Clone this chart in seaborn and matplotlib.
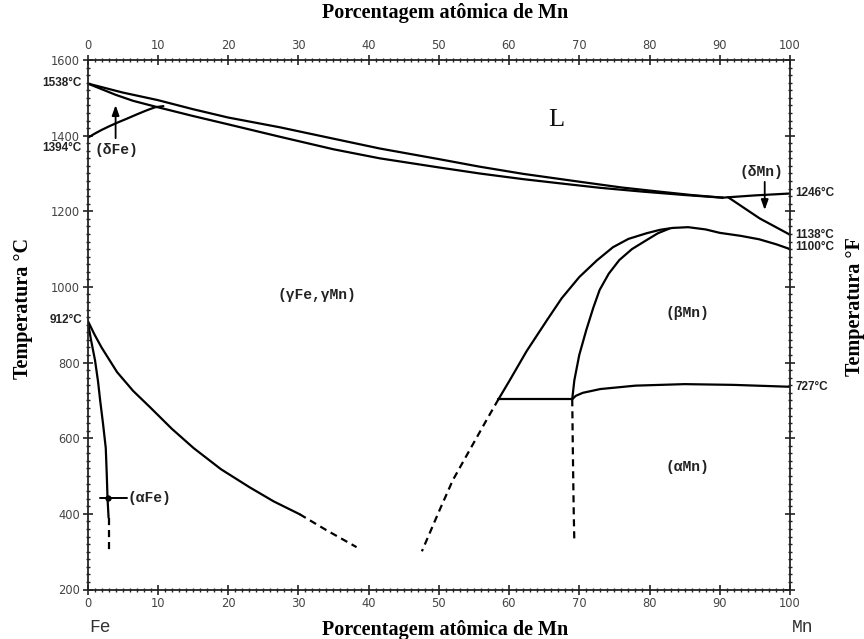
import numpy as np
import pandas as pd
import matplotlib
matplotlib.use("Agg")
import matplotlib.pyplot as plt
from matplotlib.ticker import MultipleLocator
import seaborn as sns

# ---- phase boundaries, (at.% Mn, temperature in degC) ----
liquidus_x = [0, 5, 10, 15, 20, 27.4, 35, 41.6, 50, 55.8, 62, 70.1, 76, 81.4, 86, 90.4]
liquidus_t = [1538, 1514, 1494, 1470, 1448, 1422, 1392, 1366, 1338, 1318, 1299, 1278, 1263, 1252, 1243, 1236]

solidus_x = [0, 2, 4, 6.5, 9.6, 15, 20, 27.4, 35, 41.6, 50, 55.8, 62, 67.2, 73, 79, 85, 90.4]
solidus_t = [1538, 1523, 1508, 1492, 1477, 1452, 1430, 1397, 1364, 1340, 1316, 1300, 1285, 1274, 1262, 1252, 1243, 1236]

delta_fe_x = [0, 1, 2, 3, 4.2, 5.5, 7, 8.3, 9.6, 10.8]
delta_fe_t = [1394, 1405, 1415, 1424, 1434, 1444, 1456, 1466, 1475, 1478]

liq_mn_x = [90.4, 95, 100]
liq_mn_t = [1236, 1242, 1247]

delta_mn_x = [91.2, 95.7, 100]
delta_mn_t = [1237, 1181, 1138]

beta_outer_x = [58.5, 60.1, 62.5, 65.4, 67.5, 70, 72.5, 74.8, 77, 79.6, 81.5, 83.3,
                85.5, 88, 90, 93, 95.6, 98, 100]
beta_outer_t = [703, 753, 830, 912, 970, 1026, 1070, 1105, 1127, 1142, 1151, 1156,
                1158, 1152, 1143, 1135, 1126, 1113, 1100]

beta_inner_x = [69, 69.3, 70, 71, 72, 72.9, 74.2, 75.7, 77.5, 79.6, 81.2, 82.8]
beta_inner_t = [703, 753, 820, 886, 945, 992, 1035, 1071, 1100, 1124, 1142, 1154]

eutectoid_x = [58.5, 69]
eutectoid_t = [703, 703]

alpha_mn_x = [69, 69.5, 70.5, 73, 78, 85, 92, 100]
alpha_mn_t = [703, 712, 720, 730, 739, 743, 741, 736]

outer_dash_x = [58.5, 56.8, 54.5, 52, 50, 47.6]
outer_dash_t = [703, 648, 572, 489, 405, 301]

inner_dash_x = [69, 69.1, 69.2, 69.3]
inner_dash_t = [703, 550, 420, 325]

gamma_alpha_x = [0, 1, 2, 4.2, 6.5, 8.9, 12, 15.1, 19, 23.1, 26.5, 30.2]
gamma_alpha_t = [912, 874, 840, 775, 725, 682, 625, 574, 518, 470, 433, 399]

gamma_alpha_dash_x = [30.2, 34, 38.3]
gamma_alpha_dash_t = [399, 357, 312]

alpha_fe_x = [0, 0.5, 1.07, 1.5, 1.8, 2.2, 2.6, 2.75, 2.85, 3.0]
alpha_fe_t = [912, 860, 806, 750, 700, 640, 574, 500, 441, 390]

alpha_fe_dash_x = [3.0, 3.0]
alpha_fe_dash_t = [390, 298]

# ---- axis ticks and labels ----
x_ticks = [0, 10, 20, 30, 40, 50, 60, 70, 80, 90, 100]
y_ticks = [200, 400, 600, 800, 1000, 1200, 1400, 1600]
left_marks = [("1538°C", 1538), ("1394°C", 1367), ("912°C", 912)]
right_marks = [("1246°C", 1248), ("1138°C", 1137), ("1100°C", 1105), ("727°C", 735)]
x_title = "Porcentagem atômica de Mn"

sns.set_theme(style="white")
plt.rcParams["font.family"] = ["DejaVu Sans"]

W, H = 864, 639
fig = plt.figure(figsize=(W / 100, H / 100), dpi=100)
ax = fig.add_axes([87.5 / W, 1 - 589.5 / H, (790 - 87.5) / W, (589.5 - 60) / H])
ax.set_xlim(0, 100)
ax.set_ylim(200, 1600)

solid = dict(color="black", linewidth=1.6, sort=False, estimator=None, legend=False, ax=ax)


def draw(xs, ts, dash=False):
    df = pd.DataFrame({"x": xs, "t": ts})
    line_ax = sns.lineplot(data=df, x="x", y="t", **solid)
    line = line_ax.lines[-1]
    line.set_solid_joinstyle("round")
    line.set_solid_capstyle("round")
    if dash:
        line.set_linestyle((0, (3.2, 2.2)))


draw(liquidus_x, liquidus_t)
draw(solidus_x, solidus_t)
draw(delta_fe_x, delta_fe_t)
draw(liq_mn_x, liq_mn_t)
draw(delta_mn_x, delta_mn_t)
draw(beta_outer_x, beta_outer_t)
draw(beta_inner_x, beta_inner_t)
draw(eutectoid_x, eutectoid_t)
draw(alpha_mn_x, alpha_mn_t)
draw(gamma_alpha_x, gamma_alpha_t)
draw(alpha_fe_x, alpha_fe_t)
draw(outer_dash_x, outer_dash_t, dash=True)
draw(inner_dash_x, inner_dash_t, dash=True)
draw(gamma_alpha_dash_x, gamma_alpha_dash_t, dash=True)
draw(alpha_fe_dash_x, alpha_fe_dash_t, dash=True)

# (alpha Fe) leader with marker
ax.plot([1.8, 5.6], [441, 441], color="black", lw=1.4)
ax.plot([2.85], [441], "o", color="black", ms=3.5)

# frame and ticks
for sp in ax.spines.values():
    sp.set_linewidth(1.3)
    sp.set_color("#222222")
ax.set_xticks(x_ticks)
ax.set_yticks(y_ticks)
ax.xaxis.set_minor_locator(MultipleLocator(1))
ax.yaxis.set_minor_locator(MultipleLocator(20))
ax.tick_params(which="both", direction="inout", top=True, right=True, bottom=True, left=True,
               labeltop=True, labelbottom=True, labelleft=True, labelright=False,
               color="#222222", labelcolor="#444444", labelsize=8.3)
ax.tick_params(which="major", length=7, width=1.2, pad=2)
ax.tick_params(which="minor", length=3.5, width=1.0)
ax.set_xlabel("")
ax.set_ylabel("")
ax.grid(False)

mark_font = dict(family=["Liberation Sans", "DejaVu Sans"], fontsize=8.5, fontweight="bold", color="#222222")
for txt, t in left_marks:
    ax.text(-0.8, t, txt, ha="right", va="center", clip_on=False, **mark_font)
for txt, t in right_marks:
    ax.text(100.8, t, txt, ha="left", va="center", clip_on=False, **mark_font)

region_font = dict(family=["Liberation Mono", "DejaVu Sans Mono"], fontsize=10.5, fontweight="bold", color="#222222")
ax.text(32.7, 978, "(γFe,γMn)", ha="center", va="center", **region_font)
ax.text(85.4, 931, "(βMn)", ha="center", va="center", **region_font)
ax.text(85.4, 523, "(αMn)", ha="center", va="center", **region_font)
ax.text(5.7, 441, "(αFe)", ha="left", va="center", **region_font)
ax.text(4.1, 1362, "(δFe)", ha="center", va="center", **region_font)
ax.text(95.9, 1304, "(δMn)", ha="center", va="center", **region_font)
ax.text(66.8, 1441, "L", ha="center", va="center", family=["Liberation Serif", "DejaVu Serif"],
        fontsize=19, color="#111111")

ax.annotate("", xy=(4.0, 1488), xytext=(4.0, 1386),
            arrowprops=dict(arrowstyle="-|>,head_length=0.5,head_width=0.18", color="black", lw=1.3))
ax.annotate("", xy=(96.4, 1196), xytext=(96.4, 1285),
            arrowprops=dict(arrowstyle="-|>,head_length=0.5,head_width=0.18", color="black", lw=1.3))

corner_font = dict(family=["Liberation Mono", "DejaVu Sans Mono"], fontsize=13, color="#333333")
fig.text(100 / W, 1 - 628 / H, "Fe", ha="center", va="center", **corner_font)
fig.text(803 / W, 1 - 627 / H, "Mn", ha="center", va="center", **corner_font)

title_font = dict(family=["Liberation Serif", "DejaVu Serif"], fontsize=14.5, fontweight="bold", color="black")
fig.text(445 / W, 1 - 13 / H, x_title, ha="center", va="center", **title_font)
fig.text(445 / W, 1 - 630 / H, x_title, ha="center", va="center", **title_font)
fig.text(23 / W, 1 - 308 / H, "Temperatura °C", ha="center", va="center", rotation=90, **title_font)
fig.text(855 / W, 1 - 307 / H, "Temperatura °F", ha="center", va="center", rotation=90, **title_font)

fig.savefig("out.png", dpi=100, facecolor="white")
